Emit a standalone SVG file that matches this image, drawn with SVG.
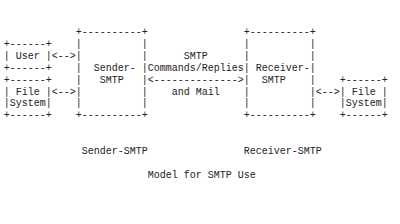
<svg xmlns="http://www.w3.org/2000/svg" width="400" height="224" viewBox="0 0 400 224" xml:space="preserve">
<style>
.t{font-family:"Liberation Mono","Courier New",monospace;font-size:10px;fill:#222;white-space:pre;}
</style>
<rect width="400" height="224" fill="#fff"/>
<g id="user">
<text class="t" x="3.7" y="47.2">+------+</text>
<text class="t" x="3.7" y="59">| User |</text>
<text class="t" x="3.7" y="70.9">+------+</text>
</g>
<g id="file-left">
<text class="t" x="3.7" y="82.7">+------+</text>
<text class="t" x="3.7" y="94.6">| File |</text>
<text class="t" x="3.7" y="106.4">|System|</text>
<text class="t" x="3.7" y="118.3">+------+</text>
</g>
<g id="sender-smtp">
<text class="t" x="75.7" y="35.3">+----------+</text>
<text class="t" x="75.7" y="47.2">|          |</text>
<text class="t" x="75.7" y="59">|          |</text>
<text class="t" x="75.7" y="70.9">|  Sender- |</text>
<text class="t" x="75.7" y="82.7">|   SMTP   |</text>
<text class="t" x="75.7" y="94.6">|          |</text>
<text class="t" x="75.7" y="106.4">|          |</text>
<text class="t" x="75.7" y="118.3">+----------+</text>
</g>
<g id="receiver-smtp">
<text class="t" x="243.7" y="35.3">+----------+</text>
<text class="t" x="243.7" y="47.2">|          |</text>
<text class="t" x="243.7" y="59">|          |</text>
<text class="t" x="243.7" y="70.9">| Receiver-|</text>
<text class="t" x="243.7" y="82.7">|  SMTP    |</text>
<text class="t" x="243.7" y="94.6">|          |</text>
<text class="t" x="243.7" y="106.4">|          |</text>
<text class="t" x="243.7" y="118.3">+----------+</text>
</g>
<g id="file-right">
<text class="t" x="339.7" y="82.7">+------+</text>
<text class="t" x="339.7" y="94.6">| File |</text>
<text class="t" x="339.7" y="106.4">|System|</text>
<text class="t" x="339.7" y="118.3">+------+</text>
</g>
<g id="connectors">
<text class="t" x="51.7" y="59">&lt;--&gt;</text>
<text class="t" x="51.7" y="94.6">&lt;--&gt;</text>
<text class="t" x="147.7" y="82.7">&lt;--------------&gt;</text>
<text class="t" x="315.7" y="94.6">&lt;--&gt;</text>
<text class="t" x="183.7" y="59">SMTP</text>
<text class="t" x="147.7" y="70.9">Commands/Replies</text>
<text class="t" x="171.7" y="94.6">and Mail</text>
</g>
<g id="captions">
<text class="t" x="81.7" y="154">Sender-SMTP</text>
<text class="t" x="243.7" y="154">Receiver-SMTP</text>
<text class="t" x="147.7" y="178">Model for SMTP Use</text>
</g>
</svg>
